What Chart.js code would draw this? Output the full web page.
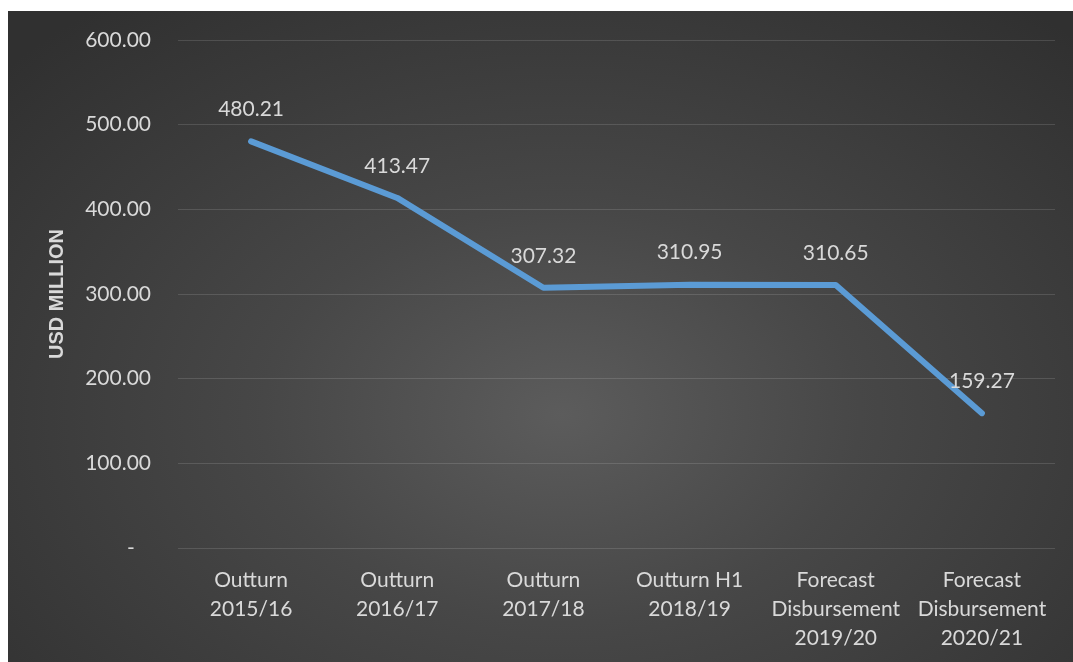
<!DOCTYPE html>
<html>
<head>
<meta charset="utf-8">
<script src="https://cdn.jsdelivr.net/npm/chart.js@4"></script>
<style>
    body { margin: 0; background: #ffffff; }
    #wrap {
        position: absolute;
        left: 8px;
        top: 11px;
        width: 1065px;
        height: 651px;
        background: radial-gradient(ellipse 70% 80% at 52% 62%, #5c5c5c 0%, #474747 40%, #303030 100%);
    }
</style>
</head>
<body>
<div id="wrap"><canvas id="lineChart"></canvas></div>
<script>
let categories = [
    ['Outturn', '2015/16'],
    ['Outturn', '2016/17'],
    ['Outturn', '2017/18'],
    ['Outturn H1', '2018/19'],
    ['Forecast', 'Disbursement', '2019/20'],
    ['Forecast', 'Disbursement', '2020/21']
];
let values = [480.21, 413.47, 307.32, 310.95, 310.65, 159.27];
let yTicks = [0, 100, 200, 300, 400, 500, 600];

let textColor = '#d9d9d9';
let fontName = 'Lato, "Open Sans", sans-serif';

// Labels above each point, like Excel's data labels
let pointLabels = {
    id: 'pointLabels',
    afterDatasetsDraw(chart) {
        let ctx = chart.ctx;
        let meta = chart.getDatasetMeta(0);
        ctx.save();
        ctx.font = '21px ' + fontName;
        ctx.fillStyle = textColor;
        ctx.textAlign = 'center';
        ctx.textBaseline = 'middle';
        meta.data.forEach((pt, i) => {
            ctx.fillText(values[i].toFixed(2), pt.x, pt.y - 32);
        });
        ctx.restore();
    }
};

let ctx = document.getElementById('lineChart').getContext('2d');
let lineChart = new Chart(ctx, {
    type: 'line',
    data: {
        labels: categories,
        datasets: [{
            data: values,
            borderColor: '#5b9bd5',
            borderWidth: 6,
            borderCapStyle: 'round',
            borderJoinStyle: 'round',
            pointRadius: 0,
            tension: 0
        }]
    },
    options: {
        responsive: true,
        maintainAspectRatio: false,
        animation: false,
        layout: { padding: { top: 0, right: 18, bottom: 0, left: 0 } },
        plugins: {
            legend: { display: false },
            tooltip: { enabled: false }
        },
        scales: {
            x: {
                offset: true,
                grid: { display: false },
                border: { display: false },
                ticks: {
                    color: textColor,
                    font: { family: fontName, size: 21, lineHeight: 1.38 },
                    padding: 10,
                    maxRotation: 0
                },
                afterFit(scale) { scale.height = 114; }
            },
            y: {
                min: 0,
                max: 600,
                afterBuildTicks(scale) {
                    scale.ticks = yTicks.map(v => ({ value: v }));
                },
                grid: {
                    color: 'rgba(255,255,255,0.13)',
                    drawTicks: false
                },
                border: { display: false },
                ticks: {
                    color: textColor,
                    font: { family: fontName, size: 21 },
                    padding: 27,
                    callback: v => v === 0 ? '-   ' : v.toFixed(2)
                },
                title: {
                    display: true,
                    text: 'USD MILLION',
                    color: textColor,
                    font: { family: '"Liberation Sans", Arial, sans-serif', size: 20, weight: 'bold' },
                    padding: { top: 37, bottom: 0 }
                },
                afterFit(scale) {
                    scale.width = 170;
                    scale.paddingTop = 29;
                }
            }
        }
    },
    plugins: [pointLabels]
});
</script>
</body>
</html>
